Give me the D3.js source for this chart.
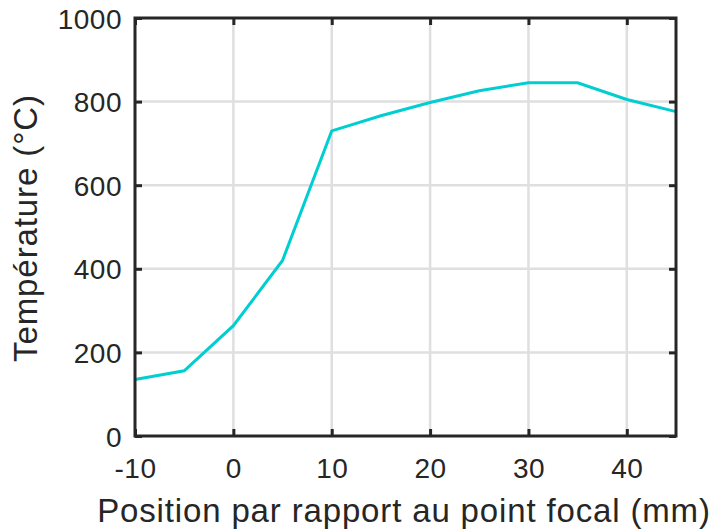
<!DOCTYPE html>
<html><head><meta charset="utf-8">
<script src="https://cdn.jsdelivr.net/npm/d3@7"></script>
<style>body{margin:0;background:#fff}svg{display:block}text{font-family:"Liberation Sans",Arial,sans-serif;fill:#262626}</style>
</head><body><svg id="c" width="713" height="531"></svg>
<script>
const positions = [-10, -5, 0, 5, 10, 15, 20, 25, 30, 35, 40, 45];
const temperatures = [135, 156, 264, 420, 730, 766, 798, 826, 845, 845, 805, 776];
const xTicks = [-10, 0, 10, 20, 30, 40];
const yTicks = [0, 200, 400, 600, 800, 1000];
const xLabel = "Position par rapport au point focal (mm)";
const yLabel = "Température (°C)";

const svg = d3.select("#c");
const L = 135, R = 676, T = 18, B = 436;
const x = d3.scaleLinear().domain([-10, 45]).range([L, R]);
const y = d3.scaleLinear().domain([0, 1000]).range([B, T]);
const fmt = d => String(d).replace("\u2212", "-");

// grid
svg.append("g").selectAll("line").data(xTicks.filter(d => d > -10)).join("line")
  .attr("x1", d => x(d)).attr("x2", d => x(d)).attr("y1", T).attr("y2", B)
  .attr("stroke", "#dfdfdf").attr("stroke-width", 2.5);
svg.append("g").selectAll("line").data(yTicks.filter(d => d > 0 && d < 1000)).join("line")
  .attr("x1", L).attr("x2", R).attr("y1", d => y(d)).attr("y2", d => y(d))
  .attr("stroke", "#dfdfdf").attr("stroke-width", 2.5);

// line
svg.append("path").datum(positions.map((p, i) => [p, temperatures[i]]))
  .attr("fill", "none").attr("stroke", "#00CED1").attr("stroke-width", 3)
  .attr("d", d3.line().x(d => x(d[0])).y(d => y(d[1])));

// axes
const xAxis = d3.axisBottom(x).tickValues(xTicks).tickSize(-7).tickPadding(22).tickFormat(fmt);
const yAxis = d3.axisLeft(y).tickValues(yTicks).tickSize(-7).tickPadding(13).tickFormat(fmt);
const gx = svg.append("g").attr("transform", `translate(0,${B})`).call(xAxis);
const gy = svg.append("g").attr("transform", `translate(${L},0)`).call(yAxis);
const gxt = svg.append("g").attr("transform", `translate(0,${T})`).call(d3.axisTop(x).tickValues(xTicks).tickSize(-7).tickFormat(""));
const gyr = svg.append("g").attr("transform", `translate(${R},0)`).call(d3.axisRight(y).tickValues(yTicks).tickSize(-7).tickFormat(""));
[gx, gy, gxt, gyr].forEach(g => {
  g.select(".domain").remove();
  g.selectAll(".tick line").attr("stroke", "#262626").attr("stroke-width", 3);
  g.selectAll("text").style("font-size", "28px").style("letter-spacing", "0.5px").attr("fill", "#262626");
});
gx.selectAll("text").attr("dy", "0.71em");
gy.selectAll("text").attr("dy", "0.36em");
// box
svg.append("rect").attr("x", L).attr("y", T).attr("width", R - L).attr("height", B - T)
  .attr("fill", "none").attr("stroke", "#262626").attr("stroke-width", 3);

svg.append("text").attr("x", 404).attr("y", 522).attr("text-anchor", "middle")
  .style("font-size", "33px").style("letter-spacing", "0.85px").text(xLabel);
svg.append("text").attr("transform", `translate(37,228) rotate(-90)`)
  .attr("text-anchor", "middle").style("font-size", "33px").style("letter-spacing", "0.9px").text(yLabel);
</script></body></html>
